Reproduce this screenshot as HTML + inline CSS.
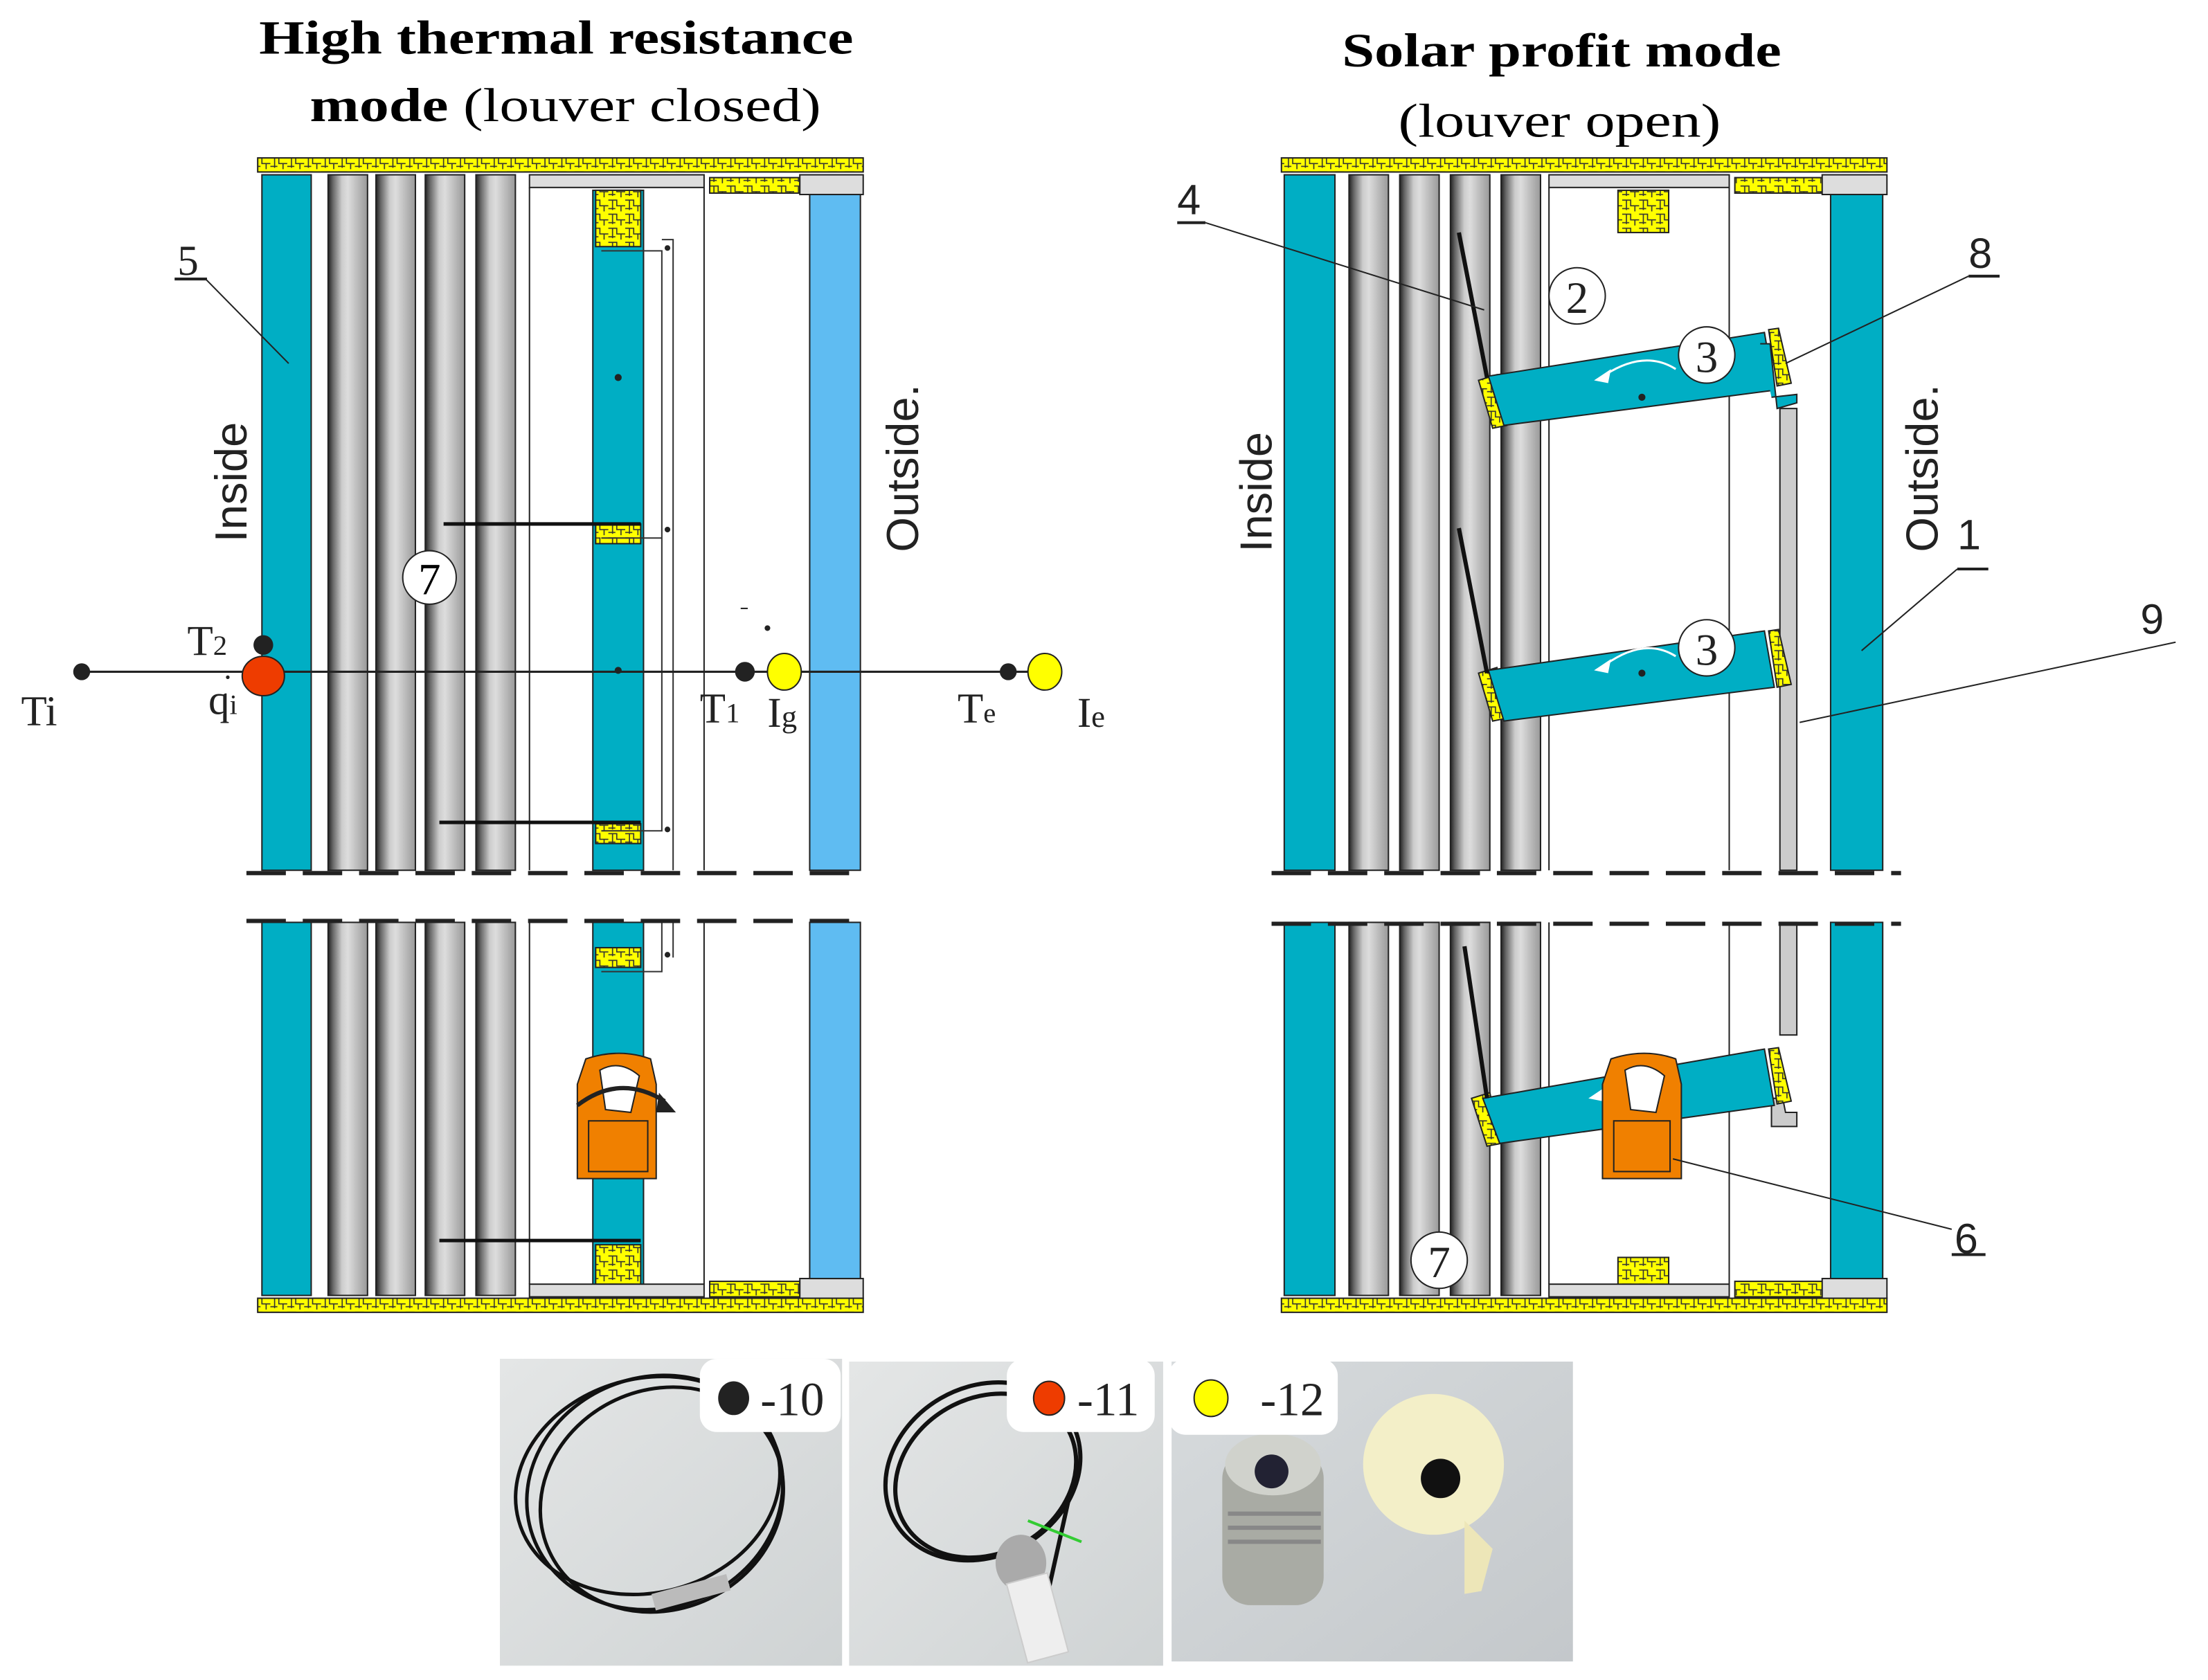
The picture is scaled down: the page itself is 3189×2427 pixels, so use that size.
<!DOCTYPE html>
<html><head><meta charset="utf-8"><style>html,body{margin:0;padding:0;background:#fff}svg{display:block}</style></head>
<body>
<svg xmlns="http://www.w3.org/2000/svg" width="3189" height="2427" viewBox="0 0 1568 1193" font-family="'Liberation Serif',serif">
<defs>
<linearGradient id="cyl" x1="0" x2="1" y1="0" y2="0">
<stop offset="0" stop-color="#222"/><stop offset="0.12" stop-color="#666"/><stop offset="0.35" stop-color="#ccc"/><stop offset="0.5" stop-color="#ddd"/><stop offset="0.75" stop-color="#bbb"/><stop offset="1" stop-color="#999"/>
</linearGradient>
<pattern id="hat" width="12" height="10" patternUnits="userSpaceOnUse">
<rect width="12" height="10" fill="#ffff00"/><path d="M0 2 L6 2 L6 6 L12 6 M3 2 L3 9 M9 6 L9 10 M0 8 L5 8" stroke="#333" stroke-width="0.8" fill="none"/>
</pattern>
<linearGradient id="ph1" x1="0" x2="1" y1="0" y2="1"><stop offset="0" stop-color="#e4e6e6"/><stop offset="1" stop-color="#cfd3d4"/></linearGradient>
<linearGradient id="ph3" x1="0" x2="1" y1="0" y2="1"><stop offset="0" stop-color="#d7dbdd"/><stop offset="1" stop-color="#c4c8cb"/></linearGradient>
</defs>

<!-- Titles -->
<text x="184" y="38" font-size="34" font-weight="bold" textLength="422" lengthAdjust="spacingAndGlyphs">High thermal resistance</text>
<text x="220" y="86" font-size="34" textLength="363" lengthAdjust="spacingAndGlyphs"><tspan font-weight="bold">mode</tspan> (louver closed)</text>
<text x="953" y="47" font-size="34" font-weight="bold" textLength="312" lengthAdjust="spacingAndGlyphs">Solar profit mode</text>
<text x="993" y="97" font-size="34" textLength="229" lengthAdjust="spacingAndGlyphs">(louver open)</text>

<!-- ============ LEFT DIAGRAM ============ -->
<g stroke="#222" stroke-width="1">
<rect x="183" y="112" width="430" height="10" fill="url(#hat)"/>
<rect x="183" y="922" width="430" height="10" fill="url(#hat)"/>
<rect x="186" y="124" width="35" height="494" fill="#00aec4"/>
<rect x="233" y="124" width="28" height="494" fill="url(#cyl)"/>
<rect x="267" y="124" width="28" height="494" fill="url(#cyl)"/>
<rect x="302" y="124" width="28" height="494" fill="url(#cyl)"/>
<rect x="338" y="124" width="28" height="494" fill="url(#cyl)"/>
<rect x="376" y="124" width="124" height="9" fill="#ddd"/>
<rect x="504" y="126" width="64" height="11" fill="url(#hat)"/>
<rect x="568" y="124" width="45" height="14" fill="#ddd"/>
<line x1="376" y1="133" x2="376" y2="618"/>
<line x1="500" y1="133" x2="500" y2="618"/>
<rect x="421" y="135" width="36" height="483" fill="#00aec4"/>
<rect x="423" y="135" width="32" height="40" fill="url(#hat)"/>
<rect x="423" y="372" width="32" height="14" fill="url(#hat)"/>
<rect x="423" y="585" width="32" height="14" fill="url(#hat)"/>
<rect x="575" y="138" width="36" height="480" fill="#5fbcf2"/>
<rect x="186" y="655" width="35" height="265" fill="#00aec4"/>
<rect x="233" y="655" width="28" height="265" fill="url(#cyl)"/>
<rect x="267" y="655" width="28" height="265" fill="url(#cyl)"/>
<rect x="302" y="655" width="28" height="265" fill="url(#cyl)"/>
<rect x="338" y="655" width="28" height="265" fill="url(#cyl)"/>
<line x1="376" y1="655" x2="376" y2="912"/>
<line x1="500" y1="655" x2="500" y2="912"/>
<rect x="421" y="655" width="36" height="265" fill="#00aec4"/>
<rect x="423" y="673" width="32" height="14" fill="url(#hat)"/>
<rect x="423" y="884" width="32" height="28" fill="url(#hat)"/>
<rect x="376" y="912" width="124" height="9" fill="#ddd"/>
<rect x="504" y="910" width="64" height="11" fill="url(#hat)"/>
<rect x="568" y="908" width="45" height="14" fill="#ddd"/>
<rect x="575" y="655" width="36" height="253" fill="#5fbcf2"/>
</g>
<g stroke="#333" stroke-width="1" fill="none">
<path d="M427 178 H470 V590 H427"/><path d="M470 170 H478 V618"/>
<path d="M427 382 H470"/><path d="M470 655 V690 H427"/><path d="M478 655 V680"/>
</g>
<g fill="#222"><circle cx="474" cy="176" r="2"/><circle cx="474" cy="376" r="2"/><circle cx="474" cy="589" r="2"/><circle cx="474" cy="678" r="2"/>
<circle cx="439" cy="268" r="2.5"/><circle cx="439" cy="476" r="2.5"/></g>
<g stroke="#111" stroke-width="2.5"><line x1="315" y1="372" x2="455" y2="372"/><line x1="312" y1="584" x2="455" y2="584"/><line x1="312" y1="881" x2="455" y2="881"/></g>
<line x1="175" y1="620" x2="613" y2="620" stroke="#222" stroke-width="3" stroke-dasharray="28,12"/>
<line x1="175" y1="654" x2="613" y2="654" stroke="#222" stroke-width="3" stroke-dasharray="28,12"/>
<line x1="58" y1="477" x2="745" y2="477" stroke="#222" stroke-width="1.5"/>
<circle cx="58" cy="477" r="6" fill="#222"/>
<circle cx="187" cy="458" r="7" fill="#222"/>
<ellipse cx="187" cy="480" rx="15" ry="14" fill="#ee3c00" stroke="#222"/>
<circle cx="529" cy="477" r="7" fill="#222"/>
<ellipse cx="557" cy="477" rx="12" ry="13" fill="#ffff00" stroke="#222"/>
<circle cx="716" cy="477" r="6" fill="#222"/>
<ellipse cx="742" cy="477" rx="12" ry="13" fill="#ffff00" stroke="#222"/>
<circle cx="545" cy="446" r="2" fill="#222"/><line x1="526" y1="432" x2="531" y2="432" stroke="#222"/>
<g font-size="30" fill="#222">
<text x="15" y="515">Ti</text>
<text x="133" y="465">T<tspan font-size="20">2</tspan></text>
<text x="148" y="507">q<tspan font-size="20">i</tspan></text>
<text x="159" y="482" font-size="22">.</text>
<text x="497" y="513">T<tspan font-size="20">1</tspan></text>
<text x="545" y="516">I<tspan font-size="22">g</tspan></text>
<text x="680" y="513">T<tspan font-size="20">e</tspan></text>
<text x="765" y="516">I<tspan font-size="22">e</tspan></text>
<text x="126" y="195">5</text>
</g>
<line x1="124" y1="198" x2="147" y2="198" stroke="#222" stroke-width="2"/>
<line x1="146" y1="198" x2="205" y2="258" stroke="#222"/>
<text transform="translate(175,385) rotate(-90)" font-family="'Liberation Sans',sans-serif" font-size="32" fill="#222">Inside</text>
<text transform="translate(652,392) rotate(-90)" font-family="'Liberation Sans',sans-serif" font-size="32" fill="#222">Outside.</text>
<circle cx="305" cy="410" r="19" fill="#fff" stroke="#222"/><text x="305" y="422" font-size="32" text-anchor="middle">7</text>
<path d="M410 837 V770 L416 752 Q440 744 462 752 L466 770 V837 Z" fill="#f08000" stroke="#222"/>
<rect x="418" y="796" width="42" height="36" fill="#f08000" stroke="#222"/>
<path d="M426 760 Q440 752 454 764 L448 790 L430 788 Z" fill="#fff" stroke="#222"/>
<path d="M410 785 Q440 762 472 782" fill="none" stroke="#222" stroke-width="3"/>
<polygon points="468,776 480,790 466,790" fill="#222"/>

<!-- ============ RIGHT DIAGRAM ============ -->
<g stroke="#222" stroke-width="1">
<rect x="910" y="112" width="430" height="10" fill="url(#hat)"/>
<rect x="910" y="922" width="430" height="10" fill="url(#hat)"/>
<rect x="912" y="124" width="36" height="494" fill="#00aec4"/>
<rect x="958" y="124" width="28" height="494" fill="url(#cyl)"/>
<rect x="994" y="124" width="28" height="494" fill="url(#cyl)"/>
<rect x="1030" y="124" width="28" height="494" fill="url(#cyl)"/>
<rect x="1066" y="124" width="28" height="494" fill="url(#cyl)"/>
<rect x="1100" y="124" width="128" height="9" fill="#ddd"/>
<rect x="1232" y="126" width="64" height="11" fill="url(#hat)"/>
<rect x="1294" y="124" width="46" height="14" fill="#ddd"/>
<line x1="1100" y1="133" x2="1100" y2="618"/>
<line x1="1228" y1="133" x2="1228" y2="618"/>
<rect x="1149" y="135" width="36" height="30" fill="url(#hat)"/>
<rect x="1300" y="138" width="37" height="480" fill="#00aec4"/>
<rect x="1264" y="290" width="12" height="328" fill="#ccc"/>
<rect x="912" y="655" width="36" height="265" fill="#00aec4"/>
<rect x="958" y="655" width="28" height="265" fill="url(#cyl)"/>
<rect x="994" y="655" width="28" height="265" fill="url(#cyl)"/>
<rect x="1030" y="655" width="28" height="265" fill="url(#cyl)"/>
<rect x="1066" y="655" width="28" height="265" fill="url(#cyl)"/>
<line x1="1100" y1="655" x2="1100" y2="912"/>
<line x1="1228" y1="655" x2="1228" y2="912"/>
<rect x="1149" y="893" width="36" height="20" fill="url(#hat)"/>
<rect x="1100" y="912" width="128" height="9" fill="#ddd"/>
<rect x="1232" y="910" width="64" height="11" fill="url(#hat)"/>
<rect x="1294" y="908" width="46" height="14" fill="#ddd"/>
<rect x="1300" y="655" width="37" height="253" fill="#00aec4"/>
<rect x="1264" y="655" width="12" height="80" fill="#ccc"/>
<path d="M1258 780 L1266 780 L1268 790 L1276 790 L1276 800 L1258 800 Z" fill="#ccc"/>
</g>
<line x1="903" y1="620" x2="1350" y2="620" stroke="#222" stroke-width="3" stroke-dasharray="28,12"/>
<line x1="903" y1="656" x2="1350" y2="656" stroke="#222" stroke-width="3" stroke-dasharray="28,12"/>
<g stroke="#222" stroke-width="1">
<polygon points="1050,270 1063,266 1070,302 1060,304" fill="url(#hat)"/>
<polygon points="1256,234 1263,233 1272,272 1262,274" fill="url(#hat)"/>
<polygon points="1057,267 1253,236 1260,277 1068,302" fill="#00aec4"/>
<path d="M1250 244 L1257 244 L1262 290 L1276 286 L1276 280 L1258 282" fill="#00aec4"/>
<polygon points="1050,478 1063,474 1070,510 1060,512" fill="url(#hat)"/>
<polygon points="1256,448 1263,447 1272,486 1262,488" fill="url(#hat)"/>
<polygon points="1057,476 1253,448 1260,488 1068,512" fill="#00aec4"/>
<polygon points="1045,780 1058,776 1066,812 1056,814" fill="url(#hat)"/>
<polygon points="1256,745 1263,744 1272,782 1262,784" fill="url(#hat)"/>
<polygon points="1053,780 1253,745 1260,785 1065,812" fill="#00aec4"/>
</g>
<g stroke="#111" stroke-width="3">
<line x1="1036" y1="165" x2="1056" y2="268"/>
<line x1="1036" y1="375" x2="1056" y2="478"/>
<line x1="1040" y1="672" x2="1056" y2="780"/>
</g>
<g fill="#222"><circle cx="1166" cy="282" r="2.5"/><circle cx="1166" cy="478" r="2.5"/></g>
<g fill="none" stroke="#fff" stroke-width="1.5"><path d="M1190 262 Q1168 248 1140 266"/><path d="M1190 466 Q1168 452 1140 472"/><path d="M1190 768 Q1168 755 1138 775"/></g>
<g fill="#fff"><polygon points="1132,270 1144,262 1142,272"/><polygon points="1132,476 1144,468 1142,478"/><polygon points="1128,780 1140,772 1138,782"/></g>
<g stroke="#222" fill="#fff"><circle cx="1120" cy="210" r="20"/><circle cx="1212" cy="252" r="20"/><circle cx="1212" cy="460" r="20"/><circle cx="1022" cy="895" r="20"/></g>
<g font-size="32" text-anchor="middle" fill="#222"><text x="1120" y="222">2</text><text x="1212" y="264">3</text><text x="1212" y="472">3</text><text x="1022" y="907">7</text></g>
<path d="M1138 837 V770 L1144 752 Q1168 744 1190 752 L1194 770 V837 Z" fill="#f08000" stroke="#222"/>
<rect x="1146" y="796" width="40" height="36" fill="#f08000" stroke="#222"/>
<path d="M1154 760 Q1168 752 1182 764 L1176 790 L1158 788 Z" fill="#fff" stroke="#222"/>
<g font-size="30" fill="#222" font-family="'Liberation Sans',sans-serif">
<text x="836" y="152">4</text><text x="1398" y="190">8</text><text x="1390" y="390">1</text><text x="1520" y="450">9</text><text x="1388" y="890">6</text>
</g>
<g stroke="#222" stroke-width="1" fill="none">
<line x1="836" y1="158" x2="856" y2="158" stroke-width="2"/><line x1="856" y1="158" x2="1054" y2="220"/>
<line x1="1398" y1="196" x2="1420" y2="196" stroke-width="2"/><line x1="1398" y1="196" x2="1268" y2="258"/>
<line x1="1390" y1="404" x2="1412" y2="404" stroke-width="2"/><line x1="1390" y1="404" x2="1322" y2="462"/>
<line x1="1545" y1="456" x2="1278" y2="513"/>
<line x1="1386" y1="891" x2="1410" y2="891" stroke-width="2"/><line x1="1386" y1="873" x2="1188" y2="823"/>
</g>
<text transform="translate(903,392) rotate(-90)" font-family="'Liberation Sans',sans-serif" font-size="32" fill="#222">Inside</text>
<text transform="translate(1376,392) rotate(-90)" font-family="'Liberation Sans',sans-serif" font-size="32" fill="#222">Outside.</text>

<!-- ============ PHOTOS ============ -->
<rect x="355" y="965" width="243" height="218" fill="url(#ph1)"/>
<g fill="none" stroke="#111" stroke-width="2.5">
<ellipse cx="465" cy="1060" rx="92" ry="82" transform="rotate(-20 465 1060)"/>
<ellipse cx="470" cy="1065" rx="88" ry="78" transform="rotate(-25 470 1065)"/>
<ellipse cx="460" cy="1055" rx="95" ry="76" transform="rotate(-15 460 1055)"/>
</g>
<rect x="463" y="1125" width="55" height="12" fill="#bbb" transform="rotate(-15 490 1130)"/>
<rect x="603" y="967" width="223" height="216" fill="url(#ph1)"/>
<g fill="none" stroke="#111" stroke-width="3">
<ellipse cx="698" cy="1045" rx="72" ry="60" transform="rotate(-30 698 1045)"/>
<ellipse cx="700" cy="1048" rx="67" ry="55" transform="rotate(-30 700 1048)"/>
<path d="M760 1060 L740 1150"/>
</g>
<line x1="730" y1="1080" x2="768" y2="1095" stroke="#3c3" stroke-width="2"/>
<ellipse cx="725" cy="1110" rx="18" ry="20" fill="#aaa"/>
<rect x="722" y="1120" width="30" height="58" fill="#eee" stroke="#ccc" transform="rotate(-15 737 1150)"/>
<rect x="832" y="967" width="285" height="213" fill="url(#ph3)"/>
<g>
<rect x="868" y="1030" width="72" height="110" rx="20" fill="#a9aba4"/>
<ellipse cx="904" cy="1040" rx="34" ry="22" fill="#d0d2cc"/>
<g stroke="#888" stroke-width="3"><line x1="872" y1="1075" x2="938" y2="1075"/><line x1="872" y1="1085" x2="938" y2="1085"/><line x1="872" y1="1095" x2="938" y2="1095"/></g>
<circle cx="903" cy="1045" r="12" fill="#223"/>
<ellipse cx="1018" cy="1040" rx="50" ry="50" fill="#f3efc8"/>
<circle cx="1023" cy="1050" r="14" fill="#111"/>
<polygon points="1040,1080 1060,1100 1052,1130 1040,1132" fill="#ede6b8"/>
</g>
<rect x="497" y="965" width="100" height="52" rx="12" fill="#fff"/>
<ellipse cx="521" cy="993" rx="11" ry="12" fill="#222"/>
<text x="540" y="1005" font-size="34" fill="#222">-10</text>
<rect x="715" y="965" width="105" height="52" rx="12" fill="#fff"/>
<ellipse cx="745" cy="993" rx="11" ry="12" fill="#ee3c00" stroke="#222"/>
<text x="765" y="1005" font-size="34" fill="#222">-11</text>
<rect x="830" y="965" width="120" height="54" rx="12" fill="#fff"/>
<ellipse cx="860" cy="993" rx="12" ry="13" fill="#ffff00" stroke="#222"/>
<text x="895" y="1005" font-size="34" fill="#222">-12</text>
</svg>
</body></html>
